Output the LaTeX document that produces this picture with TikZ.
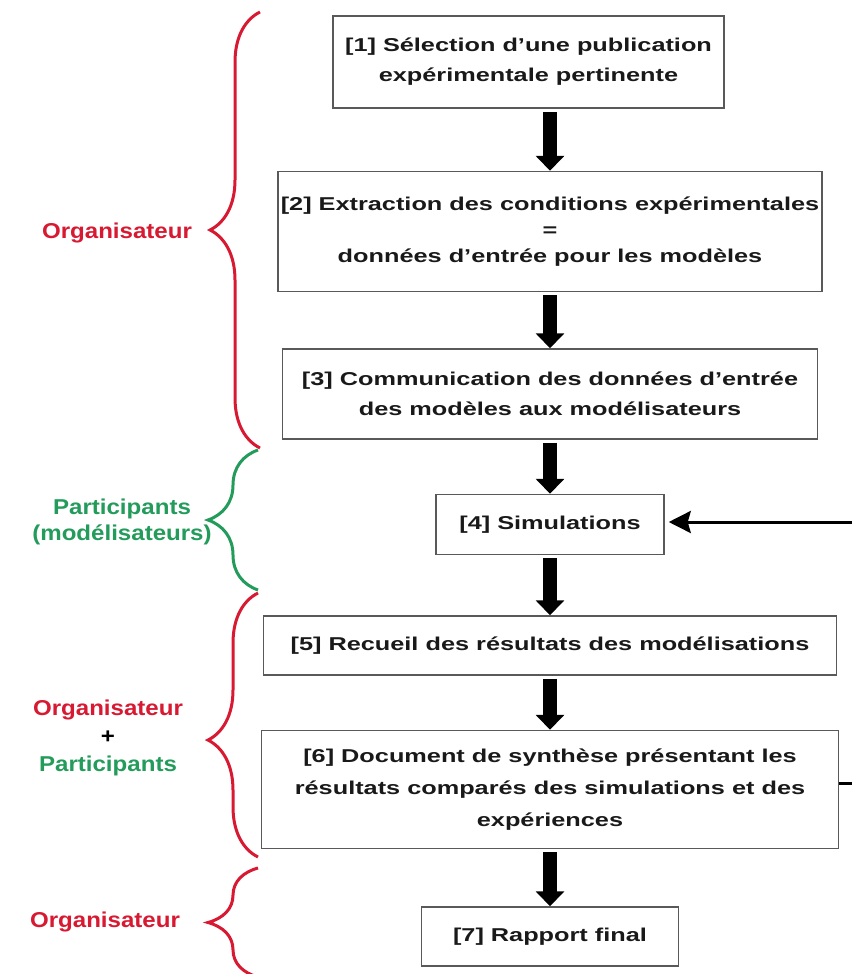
\documentclass[tikz,border=0pt]{standalone}
\usepackage{fontspec}
\setmainfont{Liberation Sans}
\newfontfamily\boxfont{Liberation Sans}[FakeStretch=1.36]
\newfontfamily\whofont{Liberation Sans}[FakeStretch=1.12]
\usetikzlibrary{arrows.meta,positioning,decorations.pathreplacing}
\definecolor{orgred}{RGB}{215,25,50}
\definecolor{partgreen}{RGB}{35,155,90}

\begin{document}
\begin{tikzpicture}[x=1pt,y=-1pt,
  stepbox/.style={draw=black!65,line width=1.5pt,align=center,inner sep=0pt,text=black!90,
    font=\boxfont\bfseries\fontsize{18.6}{30}\selectfont},
  down/.style={line width=14pt,shorten <=3pt,-{Triangle[width=28pt,length=15pt]}},
  feed/.style={line width=3pt},
  curly/.style={line width=3pt,decorate,decoration={brace,amplitude=50pt,aspect=#1}},
  curly/.default=0.5,
  who/.style={align=center,font=\whofont\bfseries\fontsize{21.5}{28}\selectfont}]
\useasboundingbox (0,0) rectangle (852,974);
% the seven steps
\node[stepbox,minimum width=391pt,minimum height=92pt] (b1) at (528.5,62)
  {[1] Sélection d’une publication\\expérimentale pertinente};
\node[stepbox,minimum width=544pt,minimum height=120pt,below=62pt of b1,xshift=21.5pt] (b2)
  {[2] Extraction des conditions expérimentales\\[-4pt]=\\[-4pt]données d’entrée pour les modèles};
\node[stepbox,minimum width=535pt,minimum height=90pt,below=56pt of b2] (b3)
  {[3] Communication des données d’entrée\\des modèles aux modélisateurs};
\node[stepbox,minimum width=228pt,minimum height=60pt,below=54pt of b3] (b4) {[4] Simulations};
\node[stepbox,minimum width=573pt,minimum height=59pt,below=60pt of b4] (b5)
  {[5] Recueil des résultats des modélisations};
\node[stepbox,minimum width=577pt,minimum height=118pt,below=54pt of b5] (b6)
  {[6] Document de synthèse présentant les\\[2pt]résultats comparés des simulations et des\\[2pt]expériences};
\node[stepbox,minimum width=257pt,minimum height=59pt,below=57pt of b6] (b7) {[7] Rapport final};
\draw[down] (b1.south -| b2.north) -- (b2.north);
\draw[down] (b2) -- (b3);
\draw[down] (b3) -- (b4);
\draw[down] (b4) -- (b5);
\draw[down] (b5) -- (b6);
\draw[down] (b6) -- (b7);
% loop back from the right edge
\coordinate (fbin) at (852,522);
\coordinate (fbout) at (852,783);
\draw[feed,-{Stealth[length=22pt,width=22pt,inset=3pt]},shorten >=4pt] (fbin) -- (fbin -| b4.east);
\draw[feed] (b6.east |- fbout) -- (fbout);
% who does what
\coordinate (r1t) at (260,12);  \coordinate (r1b) at (260,448);
\coordinate (g1t) at (258,450); \coordinate (g1b) at (258,590);
\coordinate (r2t) at (258,593); \coordinate (r2b) at (258,857);
\coordinate (r3t) at (258,868); \coordinate (r3b) at (258,977);
\draw[curly,orgred] (r1b) -- (r1t);
\draw[curly,partgreen] (g1b) -- (g1t);
\draw[curly=0.443,orgred] (r2b) -- (r2t);
\draw[curly,orgred] (r3b) -- (r3t);
\node[who,text=orgred] (org1) at (117,233) {Organisateur};
\node[who,text=partgreen] (part1) at (122,522) {Participants\\[-2pt](modélisateurs)};
\node[who] (both) at (108,738) {\color{orgred}Organisateur\\+\\\color{partgreen}Participants};
\node[who,text=orgred] (org3) at (105,922) {Organisateur};
\end{tikzpicture}
\end{document}
